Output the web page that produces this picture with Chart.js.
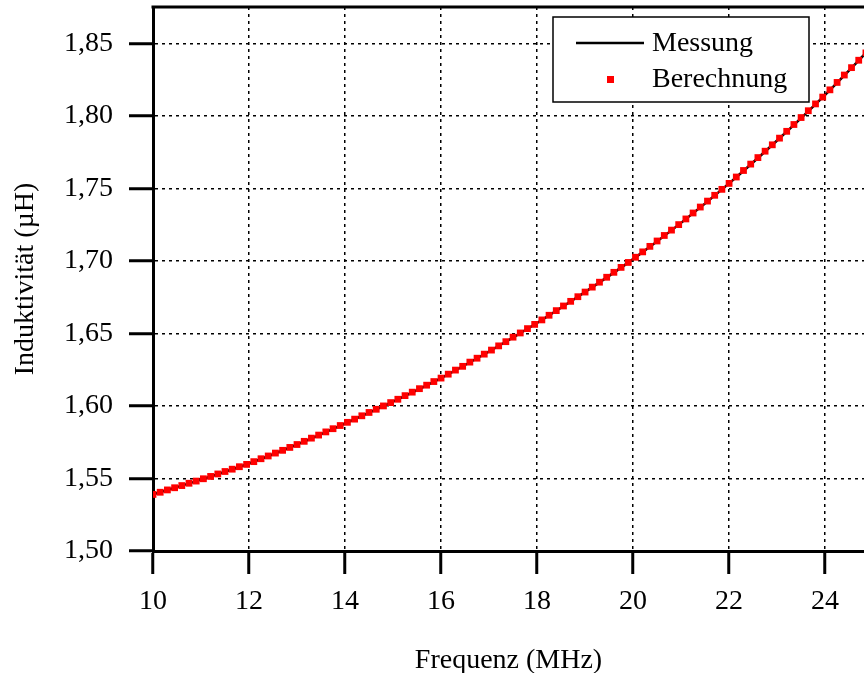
<!DOCTYPE html>
<html lang="de">
<head>
<meta charset="UTF-8">
<title>Induktivität über Frequenz</title>
<style>
  html, body { margin: 0; padding: 0; background: #fff; }
  #wrap { width: 864px; height: 673px; }
</style>
</head>
<body>
<div id="wrap"><canvas id="chart" width="864" height="673"></canvas></div>

<script src="https://cdn.jsdelivr.net/npm/chart.js"></script>
<script>
// Berechnung: einzelne Punkte (Schrittweite ca. 0,15 MHz)
const frequenz = [
  10.00, 10.15, 10.30, 10.45, 10.60, 10.75, 10.90, 11.05, 11.20, 11.35,
  11.50, 11.65, 11.80, 11.95, 12.10, 12.25, 12.40, 12.55, 12.70, 12.85,
  13.00, 13.15, 13.30, 13.45, 13.60, 13.75, 13.90, 14.05, 14.20, 14.35,
  14.50, 14.65, 14.80, 14.95, 15.10, 15.25, 15.40, 15.55, 15.70, 15.85,
  16.00, 16.15, 16.30, 16.45, 16.60, 16.75, 16.90, 17.05, 17.20, 17.35,
  17.50, 17.65, 17.80, 17.95, 18.10, 18.25, 18.40, 18.55, 18.70, 18.85,
  19.00, 19.15, 19.30, 19.45, 19.60, 19.75, 19.90, 20.05, 20.20, 20.35,
  20.50, 20.65, 20.80, 20.95, 21.10, 21.25, 21.40, 21.55, 21.70, 21.85,
  22.00, 22.15, 22.30, 22.45, 22.60, 22.75, 22.90, 23.05, 23.20, 23.35,
  23.50, 23.65, 23.80, 23.95, 24.10, 24.25, 24.40, 24.55, 24.70, 24.85
];
const berechnung = [
  1.5390, 1.5405, 1.5421, 1.5436, 1.5451, 1.5467, 1.5482, 1.5498, 1.5514, 1.5531,
  1.5548, 1.5564, 1.5581, 1.5597, 1.5616, 1.5636, 1.5655, 1.5675, 1.5694, 1.5714,
  1.5734, 1.5756, 1.5778, 1.5799, 1.5821, 1.5843, 1.5865, 1.5887, 1.5909, 1.5932,
  1.5955, 1.5977, 1.6000, 1.6023, 1.6046, 1.6071, 1.6095, 1.6119, 1.6143, 1.6168,
  1.6192, 1.6219, 1.6247, 1.6273, 1.6302, 1.6329, 1.6357, 1.6385, 1.6414, 1.6443,
  1.6474, 1.6503, 1.6533, 1.6562, 1.6593, 1.6625, 1.6657, 1.6689, 1.6721, 1.6753,
  1.6785, 1.6819, 1.6853, 1.6887, 1.6921, 1.6955, 1.6989, 1.7025, 1.7062, 1.7100,
  1.7137, 1.7175, 1.7212, 1.7250, 1.7289, 1.7330, 1.7371, 1.7412, 1.7452, 1.7493,
  1.7534, 1.7578, 1.7623, 1.7667, 1.7712, 1.7756, 1.7800, 1.7846, 1.7893, 1.7940,
  1.7988, 1.8035, 1.8082, 1.8129, 1.8179, 1.8230, 1.8281, 1.8332, 1.8383, 1.8434
];

// Messung: durchgezogene Linie
const messungFrequenz = [10, 11, 12, 13, 14, 15, 16, 17, 18, 19, 20, 21, 22, 23, 24, 25];
const messung = [1.5390, 1.5492, 1.5603, 1.5734, 1.5879, 1.6030, 1.6192, 1.6375,
                 1.6572, 1.6785, 1.7012, 1.7262, 1.7534, 1.7830, 1.8145, 1.8485];

const xTicks = [10, 12, 14, 16, 18, 20, 22, 24];
const yTicks = [1.50, 1.55, 1.60, 1.65, 1.70, 1.75, 1.80, 1.85];

const serif = "'Liberation Serif', 'Times New Roman', serif";

// Rahmen oben + Legende im Diagramm
const framePlugin = {
  id: "frame",
  afterDraw(chart) {
    const { ctx, chartArea } = chart;
    ctx.save();
    ctx.strokeStyle = "#000";
    ctx.lineWidth = 3;
    ctx.beginPath();
    ctx.moveTo(chartArea.left - 1.5, chartArea.top);
    ctx.lineTo(chartArea.right, chartArea.top);
    ctx.stroke();

    // Legende
    const bx = 553, by = 17, bw = 256, bh = 85;
    ctx.fillStyle = "#fff";
    ctx.fillRect(bx, by, bw, bh);
    ctx.lineWidth = 1.5;
    ctx.strokeRect(bx, by, bw, bh);

    ctx.lineWidth = 2.5;
    ctx.beginPath();
    ctx.moveTo(576, 43);
    ctx.lineTo(644, 43);
    ctx.stroke();
    ctx.fillStyle = "#ff0000";
    ctx.fillRect(607, 76, 7, 7);

    ctx.fillStyle = "#000";
    ctx.font = "28px " + serif;
    ctx.textBaseline = "middle";
    ctx.textAlign = "left";
    ctx.fillText(chart.data.datasets[1].label, 652, 44);
    ctx.fillText(chart.data.datasets[0].label, 652, 80);
    ctx.restore();
  }
};

const ctx = document.getElementById("chart").getContext("2d");

new Chart(ctx, {
  type: "line",
  data: {
    datasets: [
      {
        label: "Berechnung",
        data: frequenz.map((f, i) => ({ x: f, y: berechnung[i] })),
        showLine: false,
        pointStyle: "rect",
        pointRadius: 4.8,
        pointBackgroundColor: "#ff0000",
        pointBorderWidth: 0,
        pointBorderColor: "#ff0000"
      },
      {
        label: "Messung",
        data: messungFrequenz.map((f, i) => ({ x: f, y: messung[i] })),
        borderColor: "#000",
        borderWidth: 2.5,
        pointRadius: 0,
        cubicInterpolationMode: "monotone",
        fill: false
      }
    ]
  },
  options: {
    responsive: false,
    animation: false,
    devicePixelRatio: 1,
    layout: { autoPadding: false, padding: { top: 7, right: 0, left: 0, bottom: 0 } },
    plugins: {
      legend: { display: false },
      tooltip: { enabled: false }
    },
    scales: {
      x: {
        type: "linear",
        min: 10,
        max: 24.81,
        afterBuildTicks: (scale) => { scale.ticks = xTicks.map(v => ({ value: v })); },
        afterFit: (scale) => {
          scale.height = 122;
          scale.paddingLeft = 0;
          scale.paddingRight = 0;
        },
        ticks: {
          color: "#000",
          font: { family: serif, size: 28 },
          padding: 11,
          maxRotation: 0,
          callback: (v) => String(v)
        },
        grid: {
          color: "#000",
          lineWidth: 1.5,
          tickLength: 23,
          tickWidth: 3,
          tickColor: "#000"
        },
        border: { display: true, color: "#000", width: 3, dash: [3, 4] },
        title: {
          display: true,
          text: "Frequenz (MHz)",
          color: "#000",
          font: { family: serif, size: 28 },
          padding: { top: 0, bottom: -4 }
        }
      },
      y: {
        type: "linear",
        min: 1.50,
        max: 1.875,
        afterBuildTicks: (scale) => { scale.ticks = yTicks.map(v => ({ value: v })); },
        afterFit: (scale) => {
          scale.width = 153;
          scale.paddingTop = 0;
          scale.paddingBottom = 0;
        },
        ticks: {
          color: "#000",
          font: { family: serif, size: 28 },
          padding: 16,
          callback: (v) => v.toFixed(2).replace(".", ",")
        },
        grid: {
          color: "#000",
          lineWidth: 1.5,
          tickLength: 24,
          tickWidth: 3,
          tickColor: "#000"
        },
        border: { display: true, color: "#000", width: 3, dash: [3, 4] },
        title: {
          display: true,
          text: "Induktivität (µH)",
          color: "#000",
          font: { family: serif, size: 28 },
          padding: { top: 9, bottom: 0 }
        }
      }
    }
  },
  plugins: [framePlugin]
});
</script>
</body>
</html>
